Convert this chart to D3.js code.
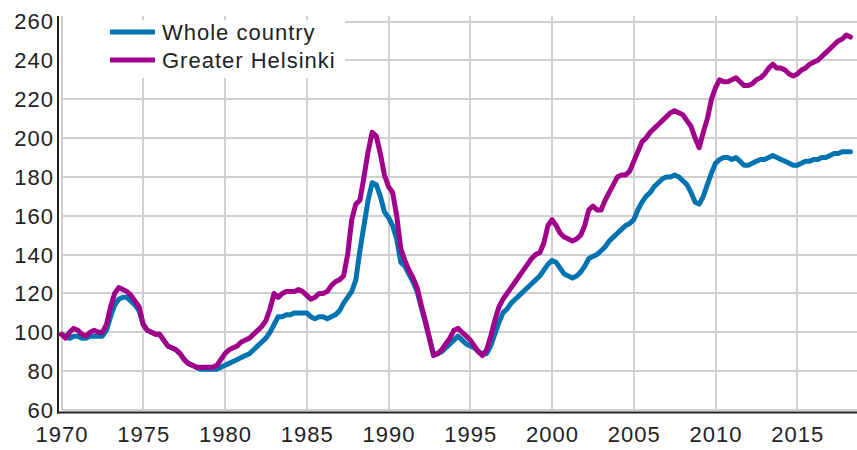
<!DOCTYPE html>
<html>
<head>
<meta charset="utf-8">
<script src="https://d3js.org/d3.v7.min.js"></script>
<style>
  body { margin: 0; background: #fff; }
  svg text { font-family: "Liberation Sans", Arial, sans-serif; font-size: 22px; fill: #222; letter-spacing: 1px; }
  .grid line { stroke: #cfcfcf; stroke-width: 2px; shape-rendering: crispEdges; }
  .series { fill: none; stroke-width: 5px; stroke-linejoin: round; stroke-linecap: round; }
</style>
</head>
<body>
<div id="chart"></div>
<script>
(function() {
  var width = 857,
      height = 450,
      plot = {left: 61.5, right: 857, top: 16, bottom: 410};

  // quarterly index, 1970Q1 = 100, first value is 1970Q1
  var startYear = 1970;

  var wholeCountry = [
    99, 98, 97, 98,   98, 97, 97, 98,   98, 98, 98, 101,  108, 114, 117, 118,
    118, 116, 114, 111,  104, 101, 100, 99,  99, 96, 93, 92,  91, 89, 86, 84,
    83, 82, 81, 81,   81, 81, 81, 82,   83, 84, 85, 86,   87, 88, 89, 91,
    93, 95, 97, 100,  104, 108, 108, 109,  109, 110, 110, 110,  110, 108, 107, 108,
    108, 107, 108, 109,  111, 115, 118, 121,  127, 142, 155, 168,  177, 176, 170, 162,
    159, 155, 148, 136,  134, 130, 126, 121,  113, 105, 97, 89,  89, 90, 92, 94,
    96, 98, 96, 94,   93, 92, 90, 89,   89, 93, 99, 105,  110, 112, 115, 117,
    119, 121, 123, 125,  127, 129, 132, 135,  137, 136, 133, 130,  129, 128, 129, 131,
    134, 138, 139, 140,  142, 144, 147, 149,  151, 153, 155, 156,  158, 163, 167, 170,
    172, 175, 177, 179,  180, 180, 181, 180,  178, 176, 172, 167,  166, 170, 176, 182,
    187, 189, 190, 190,  189, 190, 188, 186,  186, 187, 188, 189,  189, 190, 191, 190,
    189, 188, 187, 186,  186, 187, 188, 188,  189, 189, 190, 190,  191, 192, 192, 193,
    193, 193
  ];

  var greaterHelsinki = [
    99, 97, 100, 102,  101, 99, 98, 100,  101, 100, 100, 104,  113, 120, 123, 122,
    121, 119, 116, 113,  104, 101, 100, 99,  99, 96, 93, 92,  91, 89, 86, 84,
    83, 82, 82, 82,   82, 82, 83, 86,   89, 91, 92, 93,   95, 96, 97, 99,
    101, 103, 106, 112,  120, 118, 120, 121,  121, 121, 122, 121,  119, 117, 118, 120,
    120, 121, 124, 126,  127, 129, 140, 158,  166, 168, 180, 193,  203, 201, 192, 181,
    175, 172, 160, 143,  137, 132, 128, 123,  114, 106, 97, 88,  89, 91, 94, 97,
    101, 102, 100, 98,  96, 93, 90, 88,   91, 98, 106, 113,  117, 120, 123, 126,
    129, 132, 135, 138,  140, 141, 146, 155,  158, 155, 151, 149,  148, 147, 148, 150,
    155, 163, 165, 163,  163, 168, 172, 176,  180, 181, 181, 183,  188, 193, 198, 200,
    203, 205, 207, 209,  211, 213, 214, 213,  212, 209, 206, 200,  195, 203, 210, 220,
    226, 230, 229, 229,  230, 231, 229, 227,  227, 228, 230, 231,  233, 236, 238, 236,
    236, 235, 233, 232,  233, 235, 236, 238,  239, 240, 242, 244,  246, 248, 250, 251,
    253, 252
  ];

  var xTicks = [1970, 1975, 1980, 1985, 1990, 1995, 2000, 2005, 2010, 2015];
  var yTicks = [60, 80, 100, 120, 140, 160, 180, 200, 220, 240, 260];

  var seriesNames = ["Whole country", "Greater Helsinki"];
  var seriesColors = ["#0073b0", "#a0008a"];

  var svg = d3.select("#chart")
    .append("svg")
    .attr("width", width)
    .attr("height", height);

  var x = d3.scaleLinear()
    .domain([1970, 2015])
    .range([plot.left, 797.3]);

  var y = d3.scaleLinear()
    .domain([60, 260])
    .range([plot.bottom, 21.5]);

  // grid
  var grid = svg.append("g").attr("class", "grid");

  grid.selectAll(".hgrid")
    .data(yTicks)
    .enter().append("line")
      .attr("class", "hgrid")
      .attr("x1", plot.left)
      .attr("x2", plot.right)
      .attr("y1", function(d) { return Math.round(y(d)); })
      .attr("y2", function(d) { return Math.round(y(d)); });

  grid.selectAll(".vgrid")
    .data(xTicks)
    .enter().append("line")
      .attr("class", "vgrid")
      .attr("x1", function(d) { return Math.round(x(d)); })
      .attr("x2", function(d) { return Math.round(x(d)); })
      .attr("y1", plot.top)
      .attr("y2", plot.bottom);

  // series
  var line = d3.line()
    .x(function(d, i) { return x(startYear + i / 4); })
    .y(function(d) { return y(d); });

  svg.selectAll(".series")
    .data([wholeCountry, greaterHelsinki])
    .enter().append("path")
      .attr("class", "series")
      .attr("stroke", function(d, i) { return seriesColors[i]; })
      .attr("d", line);

  // axes lines
  svg.append("line")
    .attr("x1", 58).attr("x2", 58)
    .attr("y1", plot.top).attr("y2", 413.5)
    .attr("stroke", "#222").attr("stroke-width", 2);

  svg.append("line")
    .attr("x1", 57).attr("x2", plot.right)
    .attr("y1", 412.5).attr("y2", 412.5)
    .attr("stroke", "#222").attr("stroke-width", 2);

  // tick labels
  svg.selectAll(".ylabel")
    .data(yTicks)
    .enter().append("text")
      .attr("class", "ylabel")
      .attr("x", 54)
      .attr("y", function(d) { return y(d); })
      .attr("dy", "0.36em")
      .attr("text-anchor", "end")
      .text(function(d) { return d; });

  svg.selectAll(".xlabel")
    .data(xTicks)
    .enter().append("text")
      .attr("class", "xlabel")
      .attr("x", function(d) { return x(d) + 0.5; })
      .attr("y", 442)
      .attr("text-anchor", "middle")
      .text(function(d) { return d; });

  // legend
  var legend = svg.append("g").attr("class", "legend");

  legend.append("rect")
    .attr("x", 63)
    .attr("y", 20)
    .attr("width", 282)
    .attr("height", 58)
    .attr("fill", "#fff");

  var items = legend.selectAll(".item")
    .data(seriesNames)
    .enter().append("g")
      .attr("class", "item")
      .attr("transform", function(d, i) { return "translate(0," + (32 + i * 28) + ")"; });

  items.append("line")
    .attr("x1", 110)
    .attr("x2", 155)
    .attr("stroke", function(d, i) { return seriesColors[i]; })
    .attr("stroke-width", 5);

  items.append("text")
    .attr("x", 162)
    .attr("dy", "0.36em")
    .text(function(d) { return d; });
})();
</script>
</body>
</html>
